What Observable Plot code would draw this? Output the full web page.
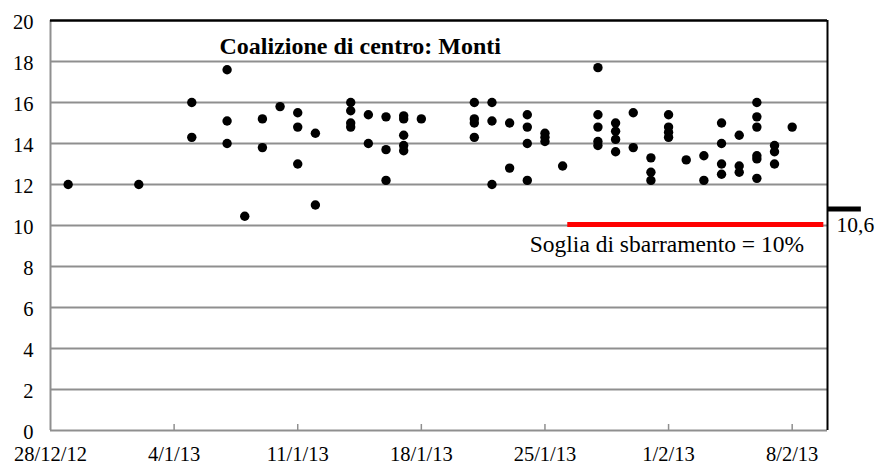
<!DOCTYPE html>
<html>
<head>
<meta charset="utf-8">
<script src="https://cdn.jsdelivr.net/npm/d3@7"></script>
<script src="https://cdn.jsdelivr.net/npm/@observablehq/plot@0.6"></script>
<style>
  html, body { margin: 0; padding: 0; background: #fff; }
  #chart { width: 884px; height: 466px; }
  #chart svg, #chart svg text { font-family: "Liberation Serif", "Times New Roman", Times, serif !important; }
</style>
</head>
<body>
<div id="chart"></div>
<script>
// ---- Data ----
const chartTitle = "Coalizione di centro: Monti";
const thresholdLabel = "Soglia di sbarramento = 10%";
const markerLabel = "10,6";

const pollDates = [
  "2012-12-29",
  "2013-01-02",
  "2013-01-05","2013-01-05",
  "2013-01-07","2013-01-07","2013-01-07",
  "2013-01-08",
  "2013-01-09","2013-01-09",
  "2013-01-10",
  "2013-01-11","2013-01-11","2013-01-11",
  "2013-01-12","2013-01-12",
  "2013-01-14","2013-01-14","2013-01-14","2013-01-14",
  "2013-01-15","2013-01-15",
  "2013-01-16","2013-01-16","2013-01-16",
  "2013-01-17","2013-01-17","2013-01-17","2013-01-17","2013-01-17",
  "2013-01-18",
  "2013-01-21","2013-01-21","2013-01-21","2013-01-21",
  "2013-01-22","2013-01-22","2013-01-22",
  "2013-01-23","2013-01-23",
  "2013-01-24","2013-01-24","2013-01-24","2013-01-24",
  "2013-01-25","2013-01-25","2013-01-25",
  "2013-01-26",
  "2013-01-28","2013-01-28","2013-01-28","2013-01-28","2013-01-28",
  "2013-01-29","2013-01-29","2013-01-29","2013-01-29",
  "2013-01-30","2013-01-30",
  "2013-01-31","2013-01-31","2013-01-31",
  "2013-02-01","2013-02-01","2013-02-01","2013-02-01",
  "2013-02-02",
  "2013-02-03","2013-02-03",
  "2013-02-04","2013-02-04","2013-02-04","2013-02-04",
  "2013-02-05","2013-02-05","2013-02-05",
  "2013-02-06","2013-02-06","2013-02-06","2013-02-06","2013-02-06","2013-02-06",
  "2013-02-07","2013-02-07","2013-02-07",
  "2013-02-08"
];
const pollValues = [
  12.0,
  12.0,
  16.0, 14.3,
  17.6, 15.1, 14.0,
  10.45,
  15.2, 13.8,
  15.8,
  15.5, 14.8, 13.0,
  14.5, 11.0,
  16.0, 15.6, 15.0, 14.8,
  15.4, 14.0,
  15.3, 13.7, 12.2,
  15.35, 15.2, 14.4, 13.9, 13.65,
  15.2,
  16.0, 15.2, 15.0, 14.3,
  16.0, 15.1, 12.0,
  15.0, 12.8,
  15.4, 14.8, 14.0, 12.2,
  14.5, 14.3, 14.1,
  12.9,
  17.7, 15.4, 14.8, 14.1, 13.9,
  15.0, 14.6, 14.2, 13.6,
  15.5, 13.8,
  13.3, 12.6, 12.2,
  15.4, 14.8, 14.55, 14.3,
  13.2,
  13.4, 12.2,
  15.0, 14.0, 13.0, 12.5,
  14.4, 12.9, 12.6,
  16.0, 15.3, 14.8, 13.4, 13.25, 12.3,
  13.9, 13.6, 13.0,
  14.8
];

const xDomain = ["2012-12-28", "2013-02-10"];
const xTickDates = ["2012-12-28","2013-01-04","2013-01-11","2013-01-18","2013-01-25","2013-02-01","2013-02-08"];
const xTickLabels = ["28/12/12","4/1/13","11/1/13","18/1/13","25/1/13","1/2/13","8/2/13"];
const yDomain = [0, 20];
const yTicks = [0, 2, 4, 6, 8, 10, 12, 14, 16, 18, 20];
const yGrid = [2, 4, 6, 8, 10, 12, 14, 16, 18];

// threshold line (red) and marker at the right edge
const thresholdValue = [10.05];
const thresholdSpan = ["2013-01-26T07:00", "2013-02-09T19:00"];
const markerValue = [10.8];
const markerSpan = ["2013-02-10T00:00", "2013-02-11T22:00"];

// ---- Build ----
const parse = s => new Date(s + (s.length === 10 ? "T00:00:00Z" : ":00Z"));
const points = pollDates.map((d, i) => ({date: parse(d), value: pollValues[i]}));
const tickDates = xTickDates.map(parse);
const xDom = xDomain.map(parse);
const thresholdRows = thresholdValue.map(v => ({v, x1: parse(thresholdSpan[0]), x2: parse(thresholdSpan[1])}));
const markerRows = markerValue.map(v => ({v, x1: parse(markerSpan[0]), x2: parse(markerSpan[1])}));

const serif = "Liberation Serif, Times New Roman, serif";
const gridGray = "#8f8f8f";
const innerHeight = 466 - 20 - 36;

const chart = Plot.plot({
  width: 884,
  height: 466,
  marginLeft: 50,
  marginRight: 57,
  marginTop: 20,
  marginBottom: 36,
  style: {fontFamily: serif, fontSize: "20px", color: "black", background: "white", overflow: "visible"},
  x: {type: "utc", domain: xDom},
  y: {domain: yDomain},
  marks: [
    Plot.ruleY(yGrid, {stroke: gridGray, strokeWidth: 2}),
    Plot.ruleY([yDomain[0]], {stroke: gridGray, strokeWidth: 2}),
    Plot.ruleX([xDom[0]], {stroke: gridGray, strokeWidth: 2}),
    Plot.ruleY([yDomain[1]], {stroke: "black", strokeWidth: 2.5}),
    Plot.ruleX([xDom[1]], {stroke: "black", strokeWidth: 2}),
    Plot.tickX(tickDates.slice(1), {stroke: gridGray, strokeWidth: 1.5, insetTop: innerHeight - 6}),
    Plot.axisX({
      ticks: tickDates,
      tickFormat: d => xTickLabels[tickDates.findIndex(t => +t === +d)],
      tickSize: 0,
      tickPadding: 16,
      fontSize: 20.5,
      fill: "black"
    }),
    Plot.axisY({
      ticks: yTicks,
      tickSize: 0,
      tickPadding: 17,
      fontSize: 20.5,
      dy: 2,
      fill: "black"
    }),
    Plot.ruleY(thresholdRows, {y: "v", x1: "x1", x2: "x2", stroke: "#ff0000", strokeWidth: 5}),
    Plot.ruleY(markerRows, {y: "v", x1: "x1", x2: "x2", stroke: "black", strokeWidth: 5, clip: false}),
    Plot.dot(points, {x: "date", y: "value", r: 4.7, fill: "black", stroke: "none"}),
    Plot.text([chartTitle], {
      frameAnchor: "top-left", text: d => d, textAnchor: "start", lineAnchor: "top",
      dx: 169, dy: 16, fontSize: 24, fontWeight: "bold", fill: "black"
    }),
    Plot.text(thresholdRows, {
      x: "x1", y: "v", text: () => thresholdLabel, textAnchor: "start", lineAnchor: "top",
      dx: -38, dy: 11, fontSize: 23.5, fill: "black"
    }),
    Plot.text(markerRows, {
      x: "x1", y: "v", text: () => markerLabel, textAnchor: "start", lineAnchor: "top",
      dx: 9, dy: 8, fontSize: 21.5, fill: "black"
    })
  ]
});

document.getElementById("chart").appendChild(chart);
</script>
</body>
</html>
